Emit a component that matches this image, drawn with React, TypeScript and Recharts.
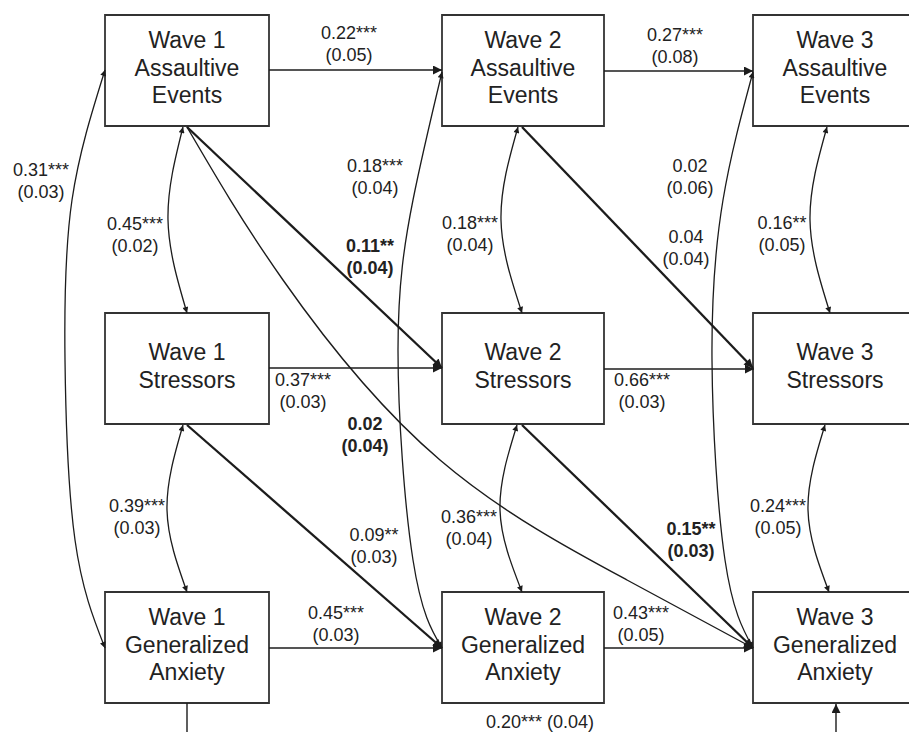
import { ComposedChart, XAxis, YAxis, Line, Scatter, ReferenceArea } from 'recharts';

// node grid (in axis units, which map 1:1 to pixels)
const waveNames = ['Wave 1', 'Wave 2', 'Wave 3'];
const constructLines = [['Assaultive', 'Events'], ['Stressors'], ['Generalized', 'Anxiety']];
const colLeft = [105, 442, 753];
const colRight = [269, 604, 917];
const rowTop = [15, 313, 592];
const rowBottom = [126, 424, 703];

// straight regression paths (thin)
const stabilityPaths: [number, number][][] = [
  [[269, 70], [442, 70]],
  [[604, 71], [753, 71]],
  [[269, 368], [442, 368]],
  [[604, 369], [754, 369]],
  [[269, 648], [442, 648]],
  [[604, 648], [753, 648]],
  [[187, 703], [187, 732.6], [836, 732.6], [836, 704]],
];

// cross-lagged paths drawn heavy
const crossLagPaths: [number, number][][] = [
  [[187, 127], [442, 368]],
  [[522, 127], [753, 368]],
  [[187, 425], [442, 648]],
  [[522, 425], [753, 648]],
];

// curved single-headed path W1 assaultive -> W3 anxiety
const longPaths: [number, number][][] = [
  [[187, 127], [283, 280], [440, 460], [627, 580], [753, 648]],
];

// two-headed covariance curves
const covCurves: [number, number][][] = [
  [[105, 70], [72, 200], [65, 360], [75, 540], [105, 648]],
  [[183, 127], [168, 220], [187, 313]],
  [[183, 425], [167, 510], [187, 592]],
  [[518, 127], [501, 220], [522, 313]],
  [[517, 425], [500, 510], [522, 592]],
  [[827, 127], [810, 220], [830, 313]],
  [[825, 425], [808, 510], [829, 592]],
  [[442, 72], [413, 200], [398, 350], [413, 560], [442, 648]],
  [[753, 72], [723, 200], [712, 360], [725, 560], [753, 648]],
];

const pathLabels = [
  { x: 349, y: 33, coef: '0.22***', se: '(0.05)', bold: false },
  { x: 675, y: 35, coef: '0.27***', se: '(0.08)', bold: false },
  { x: 41, y: 170, coef: '0.31***', se: '(0.03)', bold: false },
  { x: 135, y: 224, coef: '0.45***', se: '(0.02)', bold: false },
  { x: 375, y: 166, coef: '0.18***', se: '(0.04)', bold: false },
  { x: 370, y: 246, coef: '0.11**', se: '(0.04)', bold: true },
  { x: 690, y: 166, coef: '0.02', se: '(0.06)', bold: false },
  { x: 470, y: 223, coef: '0.18***', se: '(0.04)', bold: false },
  { x: 686, y: 237, coef: '0.04', se: '(0.04)', bold: false },
  { x: 782, y: 223, coef: '0.16**', se: '(0.05)', bold: false },
  { x: 303, y: 380, coef: '0.37***', se: '(0.03)', bold: false },
  { x: 642, y: 380, coef: '0.66***', se: '(0.03)', bold: false },
  { x: 365, y: 424, coef: '0.02', se: '(0.04)', bold: true },
  { x: 137, y: 506, coef: '0.39***', se: '(0.03)', bold: false },
  { x: 374, y: 535, coef: '0.09**', se: '(0.03)', bold: false },
  { x: 469, y: 517, coef: '0.36***', se: '(0.04)', bold: false },
  { x: 691, y: 529, coef: '0.15**', se: '(0.03)', bold: true },
  { x: 778, y: 506, coef: '0.24***', se: '(0.05)', bold: false },
  { x: 336, y: 613, coef: '0.45***', se: '(0.03)', bold: false },
  { x: 641, y: 613, coef: '0.43***', se: '(0.05)', bold: false },
  { x: 540, y: 722, coef: '0.20*** (0.04)', se: '', bold: false },
];

const FONT = '"Liberation Sans", Arial, Helvetica, sans-serif';
const INK = '#1c1c1c';

const toPts = (p: [number, number][]) => p.map(([x, y]) => ({ x, y }));

const nodes = waveNames.flatMap((w, c) =>
  constructLines.map((lines, r) => ({
    x: (colLeft[c] + colRight[c]) / 2,
    y: (rowTop[r] + rowBottom[r]) / 2 - 3,
    lines: [w, ...lines],
  }))
);

function NodeText(props: any) {
  const { cx, cy, payload } = props;
  const n = payload.lines.length;
  return (
    <text x={cx} textAnchor="middle" fontFamily={FONT} fontSize={23} fill="#222">
      {payload.lines.map((t: string, i: number) => (
        <tspan key={i} x={cx} y={cy + (i - (n - 1) / 2) * 27.5} dy="0.36em">
          {t}
        </tspan>
      ))}
    </text>
  );
}

function PathText(props: any) {
  const { cx, cy, payload } = props;
  return (
    <text
      textAnchor="middle"
      fontFamily={FONT}
      fontSize={18}
      fill="#222"
      fontWeight={payload.bold ? 700 : 400}
    >
      <tspan x={cx} y={cy} dy="0.36em">{payload.coef}</tspan>
      {payload.se ? (
        <tspan x={cx} y={cy + 22} dy="0.36em">{payload.se}</tspan>
      ) : null}
    </text>
  );
}

export default function App() {
  return (
    <div style={{ width: 909, height: 732, background: '#fff' }}>
      <style>{'body{margin:0}'}</style>
      <ComposedChart width={909} height={732} margin={{ top: 0, right: 0, bottom: 0, left: 0 }}>
        <defs>
          <marker id="headBig" viewBox="0 0 10 10" refX="10" refY="5" markerWidth="11" markerHeight="9"
            markerUnits="userSpaceOnUse" orient="auto-start-reverse">
            <path d="M0,0 L10,5 L0,10 z" fill={INK} />
          </marker>
          <marker id="headSmall" viewBox="0 0 10 10" refX="10" refY="5" markerWidth="8" markerHeight="6"
            markerUnits="userSpaceOnUse" orient="auto-start-reverse">
            <path d="M0,0 L10,5 L0,10 z" fill={INK} />
          </marker>
        </defs>
        <XAxis type="number" dataKey="x" domain={[0, 909]} hide allowDataOverflow />
        <YAxis type="number" dataKey="y" domain={[0, 732]} reversed hide allowDataOverflow />

        {waveNames.flatMap((w, c) =>
          constructLines.map((_, r) => (
            <ReferenceArea
              key={`box-${c}-${r}`}
              x1={colLeft[c]}
              x2={colRight[c]}
              y1={rowTop[r]}
              y2={rowBottom[r]}
              fill="#fff"
              fillOpacity={1}
              stroke="#333"
              strokeWidth={1.8}
              ifOverflow="hidden"
            />
          ))
        )}

        {stabilityPaths.map((p, i) => (
          <Line key={`s${i}`} data={toPts(p)} dataKey="y" type="linear" stroke={INK} strokeWidth={1.4}
            dot={false} activeDot={false} legendType="none" isAnimationActive={false}
            markerEnd="url(#headBig)" />
        ))}
        {crossLagPaths.map((p, i) => (
          <Line key={`c${i}`} data={toPts(p)} dataKey="y" type="linear" stroke={INK} strokeWidth={2.3}
            dot={false} activeDot={false} legendType="none" isAnimationActive={false}
            markerEnd="url(#headBig)" />
        ))}
        {longPaths.map((p, i) => (
          <Line key={`l${i}`} data={toPts(p)} dataKey="y" type="natural" stroke={INK} strokeWidth={1.4}
            dot={false} activeDot={false} legendType="none" isAnimationActive={false}
            markerEnd="url(#headBig)" />
        ))}
        {covCurves.map((p, i) => (
          <Line key={`v${i}`} data={toPts(p)} dataKey="y" type="natural" stroke={INK} strokeWidth={1.3}
            dot={false} activeDot={false} legendType="none" isAnimationActive={false}
            markerStart="url(#headSmall)" markerEnd="url(#headSmall)" />
        ))}

        <Scatter data={nodes} dataKey="y" shape={(p: any) => <NodeText {...p} />} isAnimationActive={false} legendType="none" />
        <Scatter data={pathLabels} dataKey="y" shape={(p: any) => <PathText {...p} />} isAnimationActive={false} legendType="none" />
      </ComposedChart>
    </div>
  );
}
